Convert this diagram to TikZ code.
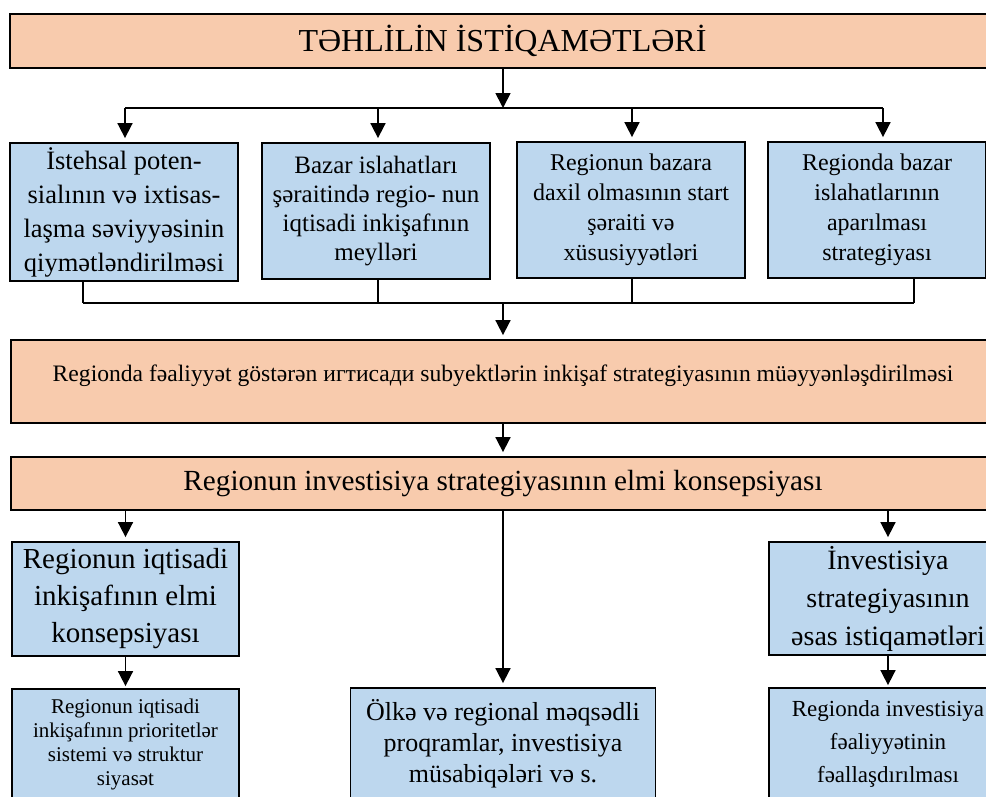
\documentclass[tikz,border=0pt]{standalone}
\usepackage{fontspec}
\setmainfont{Liberation Serif}
\usetikzlibrary{arrows.meta}

\definecolor{boxorange}{HTML}{F8CBAD}
\definecolor{boxblue}{HTML}{BDD7EE}

\tikzset{
    orangebox/.style={draw=black, line width=1.8pt, fill=boxorange, inner sep=0pt, align=center},
    bluebox/.style={draw=black, line width=1.8pt, fill=boxblue, inner sep=0pt, align=center},
    link/.style={line width=1.7pt},
    arr/.style={link, -{Triangle[length=15pt,width=15pt]}},
    gap/.style={shorten >=4pt},
}

\begin{document}
\begin{tikzpicture}[x=1pt, y=-1pt]

    \useasboundingbox (0,0) rectangle (986,796);
    \clip (0,0) rectangle (986,796);

    % top title box
    \node [orangebox, minimum width=985pt, minimum height=54pt, font=\fontsize{32}{38}\selectfont] (title) at (502.5,41) {TƏHLİLİN İSTİQAMƏTLƏRİ};

    % first row of four boxes
    \node [bluebox, minimum width=228pt, minimum height=138pt, font=\fontsize{26.5}{34}\selectfont] (b1) at (124,212) {İstehsal poten-\\sialının və ixtisas-\\laşma səviyyəsinin\\qiymətləndirilməsi};
    \node [bluebox, minimum width=228pt, minimum height=136pt, font=\fontsize{25}{29}\selectfont] (b2) at (376,211) {Bazar islahatları\\şəraitində regio- nun\\iqtisadi inkişafının\\meylləri};
    \node [bluebox, minimum width=228pt, minimum height=136pt, font=\fontsize{24}{30}\selectfont] (b3) at (631,210) {Regionun bazara\\daxil olmasının start\\şəraiti və\\xüsusiyyətləri};
    \node [bluebox, minimum width=218pt, minimum height=136pt, font=\fontsize{24}{30}\selectfont] (b4) at (877,210) {Regionda bazar\\islahatlarının\\aparılması\\strategiyası};

    % two wide orange boxes
    \node [orangebox, minimum width=984pt, minimum height=83pt, text height=14pt, text depth=14pt, font=\fontsize{23.6}{28}\selectfont] (o2) at (503,381.5) {Regionda fəaliyyət göstərən игтисади subyektlərin inkişaf strategiyasının müəyyənləşdirilməsi};
    \node [orangebox, minimum width=984pt, minimum height=53pt, font=\fontsize{29.2}{35}\selectfont] (o3) at (503,483.5) {Regionun investisiya strategiyasının elmi konsepsiyası};

    % lower left column
    \node [bluebox, minimum width=227pt, minimum height=114pt, font=\fontsize{29}{37}\selectfont] (L1) at (125.5,599) {Regionun iqtisadi\\inkişafının elmi\\konsepsiyası};
    \node [bluebox, minimum width=227pt, minimum height=111pt, font=\fontsize{21}{24}\selectfont] (L2) at (125.5,744.5) {Regionun iqtisadi\\inkişafının prioritetlər\\sistemi və struktur\\siyasət};

    % lower middle box
    \node [bluebox, minimum width=305pt, minimum height=112pt, font=\fontsize{26}{31}\selectfont] (M) at (503,744) {Ölkə və regional məqsədli\\proqramlar, investisiya\\müsabiqələri və s.};

    % lower right column
    \node [bluebox, minimum width=238pt, minimum height=113pt, font=\fontsize{28}{38}\selectfont] (R1) at (888,598.5) {İnvestisiya\\strategiyasının\\əsas istiqamətləri};
    \node [bluebox, minimum width=238pt, minimum height=112pt, font=\fontsize{23}{33}\selectfont] (R2) at (888,744) {Regionda investisiya\\fəaliyyətinin\\fəallaşdırılması};

    % bus under the title
    \coordinate (topbus) at (503,108);
    \coordinate (t1) at (125,108);
    \coordinate (t2) at (378,108);
    \coordinate (t3) at (632,108);
    \coordinate (t4) at (883,108);

    % bus under the first row
    \coordinate (midbus) at (503,303);
    \coordinate (s1) at (83,303);
    \coordinate (s2) at (378,303);
    \coordinate (s3) at (632,303);
    \coordinate (s4) at (914,303);

    \draw [arr] (title.south -| topbus) -- (topbus);
    \draw [link] (t1) -- (t4);
    \foreach \n in {1,...,4}
        \draw [arr, gap] (t\n) -- (t\n |- b\n.north);

    \foreach \n in {1,...,4}
        \draw [link] (s\n |- b\n.south) -- (s\n);
    \draw [link] (s1) -- (s4);
    \draw [arr, gap] (midbus) -- (midbus |- o2.north);

    \draw [arr, gap] (o2.south) -- (o3.north);
    \draw [arr, gap] (o3.south -| L1.north) -- (L1.north);
    \draw [arr, gap] (o3.south -| M.north) -- (M.north);
    \draw [arr, gap] (o3.south -| R1.north) -- (R1.north);
    \draw [arr, shorten >=2pt] (L1.south) -- (L2.north);
    \draw [arr, shorten >=2pt] (R1.south) -- (R2.north);

\end{tikzpicture}
\end{document}
